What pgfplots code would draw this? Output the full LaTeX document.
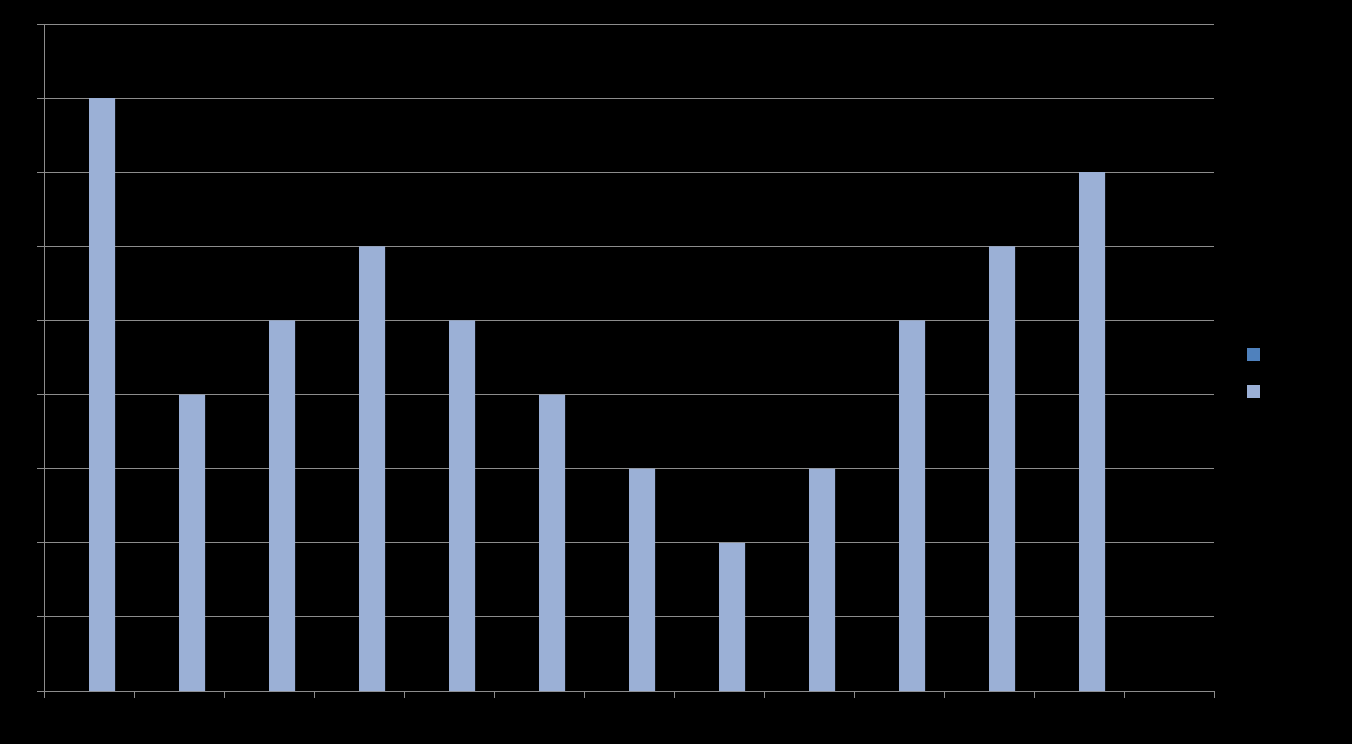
\documentclass[border=0pt]{standalone}
\usepackage{pgfplots}
\pgfplotsset{compat=1.18}
\definecolor{seriesA}{HTML}{4F81BD}
\definecolor{seriesB}{HTML}{9BB0D6}
\definecolor{gridgray}{HTML}{8C8C8C}
\begin{document}
\begin{tikzpicture}[x=1pt,y=1pt]
% black page, 1px = 0.75pt
\fill[black] (-33pt,-39.75pt) rectangle (981pt,518.25pt);
\begin{axis}[
    at={(0pt,0pt)}, anchor=south west,
    scale only axis,
    width=877.5pt, height=500.25pt,
    xmin=-0.5, xmax=12.5,
    ymin=0, ymax=9,
    axis lines*=left,
    axis line style={gridgray, line width=0.6pt},
    xtick={-0.5,0.5,...,12.5},
    ytick={0,1,...,9},
    xticklabels={}, yticklabels={},
    tick align=outside,
    major tick length=5pt,
    tick style={gridgray, line width=0.6pt},
    ymajorgrids=true,
    grid style={gridgray, line width=0.6pt},
    legend style={at={(1.0282,0.4775)}, anchor=west, draw=none, fill=none,
        inner sep=0pt, row sep=18pt,
        nodes={inner sep=0pt, minimum height=9.75pt}},
    legend image code/.code={\fill[#1] (0pt,-4.875pt) rectangle (9.75pt,4.875pt);},
]
\addlegendimage{fill=seriesA, draw=none}
\addlegendentry{}
\addplot[ybar, bar width=19.5pt, bar shift=9.75pt, fill=seriesB, draw=none]
    coordinates {(0,8) (1,4) (2,5) (3,6) (4,5) (5,4) (6,3) (7,2) (8,3) (9,5) (10,6) (11,7)};
\addlegendentry{}
\end{axis}
\pgfresetboundingbox
\path[use as bounding box] (-33pt,-39.75pt) rectangle (981pt,518.25pt);
\end{tikzpicture}
\end{document}
